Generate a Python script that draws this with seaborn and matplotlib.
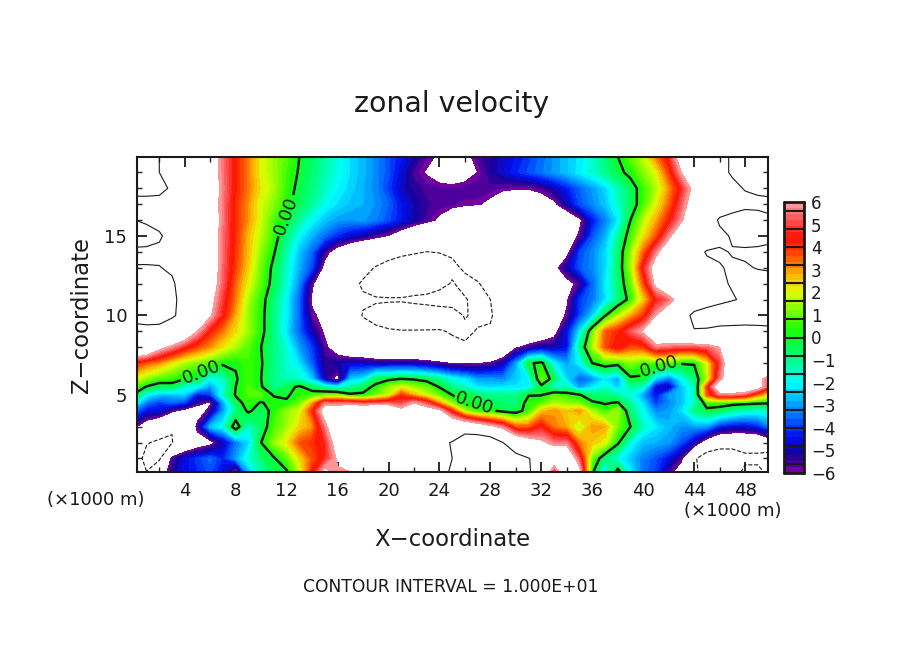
import numpy as np
import matplotlib
matplotlib.use("Agg")
import matplotlib.pyplot as plt
import seaborn as sns

# zonal velocity, one list per height, x = 0..50 (x1000 m)
x_km = list(range(51))
z_km = [0, 1, 2, 3, 4, 4.5, 5, 5.5, 6, 7, 8, 9, 10, 11, 12, 13, 14, 15, 16, 17, 18, 19, 20]
z00 = [-9,-9.8,-7,-5.2,-4.5,-4.2,-3.8,-4.8,-7.5,-3,-1.5,-0.5,-0.3,1.5,4.4,7,5.8,5.8,8,8.5,9,9,9,9.3,9.8,10.1,11,12,12,11.5,11,10.2,9,3.6,8,7,0,-3,1,-2,-3.5,-4,-5.8,-7,-9,-12,-13,-12,-8.5,-8.5,-11]
z01 = [-8.5,-10.8,-10.4,-5.6,-4.6,-4,-3.5,-4.2,-3,-1.6,-0.7,-0.1,0.8,2.3,3.6,4.6,6.2,7,8.5,9,9.3,9.3,9.4,9.5,9.7,10,12,12.5,12.5,12,11,10.1,9,8,8,5,1,-0.8,-1.8,-2.6,-3.3,-3.8,-4.5,-5.7,-9.5,-12,-13,-13,-11,-11,-12]
z02 = [-8.5,-9.8,-10.5,-10.1,-8,-7,-6.5,-5,-3.4,-2.4,0,1.3,2.2,3.6,4,4.6,7,8.5,9,9.2,9.3,9.4,9.4,9.5,9.6,10.1,12,12.5,12,10,8,7,6.3,5.5,5.5,3.2,2.5,2,0.2,-1.8,-2.7,-2.8,-3,-3.8,-5,-7,-8,-8,-8,-8,-7]
z03 = [-5.7,-7,-8,-9.9,-9.5,-5.5,-2.6,-1.8,0.7,-1.6,-0.6,0.7,1.4,2.4,3,5.5,8,8.5,9,9.2,9.3,9.3,9.3,9.5,9.2,8.5,8.3,7.5,6.5,5.5,3.5,3.5,4.5,3.2,2.8,1.6,3,2.8,1,0,-1.5,-2.2,-2.7,-3.1,-3,-3,-4.3,-4.7,-4.7,-4.3,-3.2]
z04 = [-3.3,-4.5,-4.6,-5.7,-6.5,-7,-5.5,-3,-1,0.2,-0.6,0.4,1.3,1.8,4,7,8,8.5,9,9,8.5,6.5,7,7,6.5,4,1.5,0.5,0.2,-0.3,-0.5,0.5,2.5,3,2.5,3,1.5,0.5,1.5,-0.8,-2,-3.2,-3,-2.3,-0.9,-0.3,-0.6,-1.1,-1.5,-1.7,-1.6]
z45 = [-1.6,-3.4,-4,-3.6,-4,-5.5,-6.2,-3,-0.5,0.5,-0.1,0.4,0.1,1,2.8,5.5,5.2,5.2,4.8,5,5.2,5,6,5,3,1.2,0,-0.1,-0.4,-0.7,-0.8,0.4,0.8,1.5,1.2,1,0.2,-0.1,0.1,-1.2,-2.3,-4,-3.2,-2.6,-1.6,0.6,0.6,0.4,0.3,0.2,0.1]
z05 = [-0.1,-2,-2.6,-2.7,-2.4,-4.5,-4,-1.5,0.1,0.7,0.8,-0.1,-0.1,0.3,0.6,1,1.2,0.2,0.2,1,1.8,3.9,2.8,1.8,0.9,0,0,-0.7,-1,-1,-1,-0.05,-0.05,0.8,0.5,0.1,-0.8,-0.8,-1.2,-1.8,-3,-4.5,-3,-2.6,-1.5,3.5,5.4,5.4,5,3.2,2]
z55 = [0.9,-0.1,-0.7,-0.5,-1.8,-2,-3,-1.8,0,0.7,0.1,-1,-0.4,0.2,-0.6,-1.3,-2,-1.2,-0.5,0.3,1.3,2,1.4,1,-0.05,-1,-1.5,-2.2,-2.3,-2.2,-2.2,-2.2,-0.3,-1.6,-1.4,-3,-2.2,-1.6,-2.5,-1.2,-1.6,-4.7,-5.2,-2.6,-1.5,3.8,8,8.5,8,7,4.5]
z06 = [2,1.2,0.7,0.5,0,-0.4,-2,-1.5,-0.1,0.6,0,-1,-1.4,-1.5,-2.5,-5,-6.5,-2.5,-2.2,-0.5,-0.2,0.05,-0.1,-0.4,-1,-1.8,-2.2,-3,-3,-3.2,-2.5,-2,1,-0.5,-2.4,-3.6,-3.2,-2.2,-3,-0.2,-0.2,-2.5,-3.5,-2,-0.8,1.6,5.5,7.5,7.5,6.5,5]
z07 = [4.2,3.5,3,2.2,1.5,1.1,0.7,0.2,0.1,0.6,0.1,-1,-1.6,-2.3,-3.7,-5.3,-5,-4.8,-4.8,-5,-5,-5,-5,-5.3,-5.7,-6.1,-6.2,-6.1,-5.8,-5,-3,-0.2,0.3,-2,-3,-2,0,0.6,0.4,1.2,0.7,0.8,0.8,0.1,0.1,2,4.8,8,9,9,9]
z08 = [9,8.5,6.6,5.6,4.5,3.7,3,2.2,1.5,0.8,0,-0.9,-1.7,-3,-4,-5.7,-7,-8,-8.5,-9,-9.3,-9.5,-9.6,-9.7,-9.7,-9.7,-9.8,-9.9,-9.4,-8,-6.2,-5.5,-5,-5,-4.5,-1,1.5,3.6,4.6,3.6,3.8,5.5,5.2,5,5,5.2,6,7.5,8.5,9,9]
z09 = [9.5,9.3,9.2,9,8,6,4.2,3.2,2.3,1.4,0.3,-0.9,-2.3,-3.6,-5,-6.2,-7.5,-8.5,-9.2,-9.6,-9.8,-9.9,-9.9,-9.9,-9.9,-10.1,-10.3,-9.9,-9.9,-9.3,-8.8,-8.2,-7.6,-6.6,-4.5,-2.2,0.9,3.5,4.1,5.2,6.2,8,9,9.7,9.9,9.8,9.5,9.3,9.2,9.4,9.6]
z10 = [10.5,11,11,10.2,9.5,8.5,6.2,4.4,2.8,1.3,0.3,-0.9,-2.1,-3.6,-5.8,-6.4,-7.5,-9,-10.1,-10.6,-11,-11.2,-11.2,-11,-10.8,-10.6,-9.9,-10.3,-10.1,-9.5,-9,-8.5,-8,-7,-5.8,-3.9,-2.5,-0.1,1.6,2.8,3.9,6,7.5,9,10.5,10.8,11,11.2,11.2,11,10.8]
z11 = [10.8,11,10.9,10.3,9.5,8.5,6.6,4.8,3.2,1.5,0.4,-0.8,-2.1,-3.6,-6.2,-7.5,-8.3,-9,-9.8,-9.8,-9.8,-9.8,-9.6,-9.5,-9.4,-9.4,-9.9,-10.4,-10,-9.3,-8.7,-8.2,-7.8,-7.3,-6.2,-4,-3.4,-2.3,-1,0.4,2.4,4.4,5.3,7,8.5,9.2,9.6,9.9,10.2,10.8,10.8]
z12 = [10.8,11,10.8,10.2,9.3,8.5,7,5.2,3.4,2,0.8,-0.4,-1.7,-3.2,-5.8,-7.5,-8.5,-9.5,-10.2,-11,-11.5,-11.5,-11.2,-11,-10.4,-9.9,-10.4,-10.1,-9.5,-9,-8.5,-8,-7.5,-7,-6.5,-5.6,-3.6,-2.2,-0.8,0.9,3.6,6.5,8,8.5,9,9.4,9.8,10.1,10.8,10.9,10.7]
z13 = [10.1,10.1,10.05,9.8,9.2,8.5,7.2,5.3,3.8,2.4,1,-0.3,-1.6,-2.8,-3.9,-6.5,-8,-9,-9.5,-10.1,-10.6,-11,-11.3,-11.5,-11.3,-10.3,-9.8,-9.4,-9,-8.5,-8,-7.5,-7,-6.5,-5,-3.7,-3.2,-2.4,-0.7,1.4,4.5,7,8.5,9,9.5,9.7,9.9,10.2,10.2,9.9,9.8]
z14 = [9.6,9.6,9.7,9.5,9.2,8.5,7.3,5.4,3.9,2.6,1.2,0.1,-1.3,-2.6,-3.6,-5.5,-6.8,-7.8,-8.5,-9,-9.3,-9.6,-9.8,-10.02,-9.9,-9.8,-9.7,-9.6,-9.5,-9.3,-9,-8.5,-8,-7.5,-6.5,-3.9,-3.2,-2.4,-0.8,1.3,3.4,5.5,7.5,8.5,9.5,10.1,10.2,9.9,9.7,9.6,9.5]
z15 = [11,10.8,10.2,9.4,9,8.5,7.2,5.4,4,2.6,1.6,0.5,-0.9,-2,-2.8,-3.5,-4.2,-4.7,-5.1,-5.6,-6.1,-7,-8,-8.5,-9,-9.2,-9.4,-9.5,-9.5,-9.5,-9.5,-9.2,-8.8,-8,-7,-5.8,-3.8,-2.8,-1.2,0.6,2.2,3.6,5.6,7.5,8.5,9,9.5,10.2,10.8,10.8,10.5]
z16 = [10.05,9.7,9.5,9.5,9.3,8.5,7.2,5.5,4,3,1.8,0.7,-0.2,-1.2,-2,-2.6,-3,-3.1,-3,-3.3,-3.8,-4.4,-5,-5.6,-6.2,-7,-8,-9,-9,-9,-9.5,-9.5,-9,-8.5,-7.5,-6.3,-4.4,-3.3,-2.2,0,1.6,2.8,4.2,5.8,7.5,8.5,10.3,10.8,11,10.8,10.3]
z17 = [9,9.2,9.5,9.5,9,8,7,5.5,4,3,1.8,1.2,0.3,-0.5,-1.1,-1.9,-2.3,-2.6,-2.8,-3.1,-3.6,-4.4,-5,-5.4,-5.6,-5.7,-5.8,-5.9,-6.3,-7,-7.5,-7.5,-7,-6.3,-5,-3.8,-3.2,-2.6,-1.6,-0.6,0.6,2,3.4,5.2,7,8,8.5,9,9.5,9.5,9.5]
z18 = [11,10.8,10.4,9.8,9,8,7,5.6,4.2,3.2,2.2,1.5,0.5,-0.3,-0.9,-1.5,-2,-2.4,-2.8,-3.2,-4,-4.8,-5.3,-5.6,-5.7,-5.7,-5.6,-5.5,-5.6,-5.8,-5.9,-5.9,-5.6,-5,-4.3,-3.6,-3,-2.4,-1.4,-0.5,0.5,1.5,3,4.6,6.5,8,8.8,9.6,10.1,10.4,10.6]
z19 = [11.5,11,10,9,9,8,7,5.5,4.2,3.2,2,1.4,0.6,-0.1,-0.7,-1.3,-1.8,-2.3,-2.7,-3.2,-3.8,-4.6,-5.6,-6.1,-6.6,-7,-6.6,-6,-5.2,-4.7,-4.2,-3.8,-3.4,-3,-2.6,-2.1,-1.6,-1,-0.3,0.3,1.2,2,3.8,6,8,8.5,9.5,10.2,11,12,12]
z20 = [12,12,10,9,9,8,7,5.5,4.2,3.2,2,1.4,0.8,0,-0.6,-1.2,-1.8,-2.3,-2.7,-3.2,-3.8,-4.4,-5,-5.7,-6.2,-7,-6.4,-5.6,-5.2,-4.8,-4.4,-4,-3.5,-3,-2.6,-2.2,-1.6,-0.8,0,0.9,1.8,3.2,4.6,7,8,8,9.5,10.2,11,12,12]
x_tick_labels = [4, 8, 12, 16, 20, 24, 28, 32, 36, 40, 44, 48]
z_tick_labels = [5, 10, 15]
bar_labels = [6, 5, 4, 3, 2, 1, 0, -1, -2, -3, -4, -5, -6]

u = np.array([z00, z01, z02, z03, z04, z45, z05, z55, z06, z07, z08, z09, z10, z11, z12, z13,
              z14, z15, z16, z17, z18, z19, z20])

sns.set_theme(style="white", rc={"xtick.direction": "in", "ytick.direction": "in",
                                 "text.color": "k", "axes.labelcolor": "k"})
plt.rcParams["font.family"] = ["DejaVu Sans"]

# rainbow as on the colour bar, purple at -6 up to pink at +6
colors = ["#8000a0", "#180098", "#0010f0", "#0060ff", "#00b0ff", "#00ffff", "#00ffa0", "#00ff50",
          "#20ff00", "#80ff00", "#e0ff00", "#ffb000", "#ff5000", "#ff1000", "#ff5050", "#ffa0a0"]
cmap = sns.blend_palette(colors, n_colors=45, as_cmap=True)
levels = np.linspace(-6, 6, 46)

fig = plt.figure(figsize=(9.04, 6.54), dpi=100)
ax = fig.add_axes([137 / 904, 1 - 472 / 654, 631 / 904, 315 / 654])

ax.contourf(x_km, z_km, u, levels=levels, cmap=cmap)
ax.contour(x_km, z_km, u, levels=[-10, 10], colors="k", linewidths=0.8,
           linestyles=["--", "-"])
zero = ax.contour(x_km, z_km, u, levels=[0], colors="k", linewidths=1.8)
ax.clabel(zero, fmt="%.2f", fontsize=13, inline=True, inline_spacing=2,
          manual=[(11.9, 16.3), (5.3, 6.4), (26.8, 4.7), (41.3, 6.6)])

ax.set_xlim(0.25, 49.8)
ax.set_ylim(0.15, 19.97)
ax.set_xticks(x_tick_labels)
ax.set_xticks(range(2, 50, 4), minor=True)
ax.set_yticks(z_tick_labels)
ax.set_yticks([v for v in range(1, 20) if v % 5], minor=True)
ax.tick_params(which="major", length=7, width=1.3, top=True, right=True, bottom=True, left=True,
               labelsize=13, pad=7, colors="k")
ax.tick_params(which="minor", length=3.5, width=1, top=True, right=True, bottom=True, left=True)
for side in ax.spines.values():
    side.set_linewidth(1.5)
    side.set_color("k")

fig.text(452 / 904, 1 - 104 / 654, "zonal velocity", ha="center", va="center", fontsize=20.4)
fig.text(452 / 904, 1 - 539 / 654, "X\u2212coordinate", ha="center", va="center", fontsize=16.4)
fig.text(82 / 904, 1 - 315 / 654, "Z\u2212coordinate", ha="center", va="center", fontsize=16.4,
         rotation=90)
fig.text(451 / 904, 1 - 587 / 654, "CONTOUR INTERVAL = 1.000E+01", ha="center", va="center",
         fontsize=12.3)
fig.text(96 / 904, 1 - 500 / 654, "(\u00d71000 m)", ha="center", va="center", fontsize=13)
fig.text(733 / 904, 1 - 511 / 654, "(\u00d71000 m)", ha="center", va="center", fontsize=13)

# colour bar, blocks of 3 shades with black rules every 0.8
cax = fig.add_axes([784 / 904, 1 - 473 / 654, 20 / 904, 271 / 654])
shades = (levels[:-1] + levels[1:])[::-1].reshape(-1, 1) / 2
sns.heatmap(shades, ax=cax, cmap=cmap, vmin=-6, vmax=6, cbar=False, xticklabels=False,
            yticklabels=False)
for k in range(-7, 8):
    cax.axhline((6 - 0.8 * k) / 12 * 45, color="k", lw=1.5)
cax.axhline(0, color="k", lw=2, clip_on=False)
cax.axhline(45, color="k", lw=2, clip_on=False)
cax.axvline(0, color="k", lw=2, clip_on=False)
cax.axvline(1, color="k", lw=2, clip_on=False)
cax.yaxis.tick_right()
cax.set_yticks([(6 - v) / 12 * 45 for v in bar_labels])
cax.set_yticklabels([str(v).replace("-", "\u2212") for v in bar_labels], rotation=0)
cax.tick_params(axis="y", length=0, labelsize=12, pad=5, colors="k")

fig.savefig("out.png", dpi=100)
